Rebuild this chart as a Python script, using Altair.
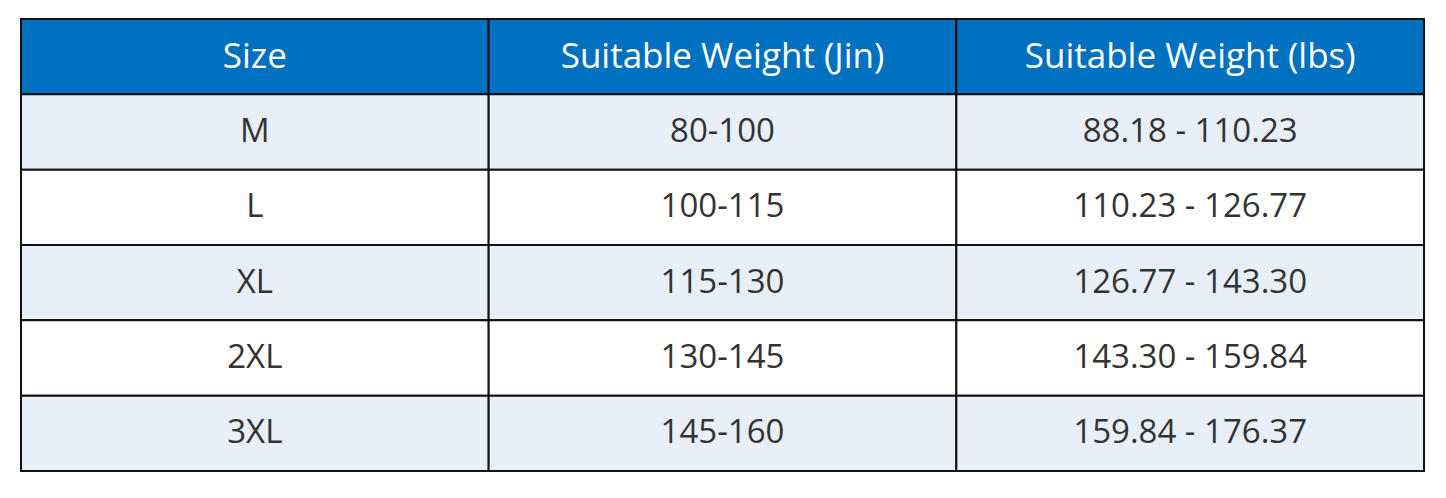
import altair as alt
import pandas as pd

headers = ["Size", "Suitable Weight (Jin)", "Suitable Weight (lbs)"]
sizes = ["M", "L", "XL", "2XL", "3XL"]
jin = ["80-100", "100-115", "115-130", "130-145", "145-160"]
lbs = ["88.18 - 110.23", "110.23 - 126.77", "126.77 - 143.30",
       "143.30 - 159.84", "159.84 - 176.37"]

records = []
for c, h in enumerate(headers):
    records.append({"row": 0, "col": c, "text": h, "kind": "header"})
for i in range(len(sizes)):
    kind = "shade" if i % 2 == 0 else "plain"
    for c, v in enumerate([sizes[i], jin[i], lbs[i]]):
        records.append({"row": i + 1, "col": c, "text": v, "kind": kind})
df = pd.DataFrame(records)

W, H = 1403, 452

xenc = alt.X("col:O", axis=None, scale=alt.Scale(paddingInner=0, paddingOuter=0))
yenc = alt.Y("row:O", axis=None, scale=alt.Scale(paddingInner=0, paddingOuter=0))

cells = alt.Chart(df).mark_rect(stroke="#111111", strokeWidth=2).encode(
    x=xenc,
    y=yenc,
    color=alt.Color(
        "kind:N",
        scale=alt.Scale(domain=["header", "shade", "plain"],
                        range=["#0070C0", "#E9EFF8", "#FFFFFF"]),
        legend=None,
    ),
)

labels = alt.Chart(df).mark_text(
    font="Open Sans", baseline="middle", align="center"
).encode(
    x=xenc,
    y=yenc,
    text="text:N",
    color=alt.condition(alt.datum.kind == "header", alt.value("#FFFFFF"), alt.value("#333333")),
    size=alt.condition(alt.datum.kind == "header", alt.value(35), alt.value(33)),
)

chart = (
    alt.layer(cells, labels)
    .properties(width=W, height=H,
                padding={"left": 13, "top": 11, "right": 5, "bottom": 5},
                autosize=alt.AutoSizeParams(type="none"))
    .configure_view(stroke="#000000", strokeWidth=3)
    .configure(background="#FFFFFF")
)

chart.save("out.html", embed_options={"renderer": "svg", "actions": False})
